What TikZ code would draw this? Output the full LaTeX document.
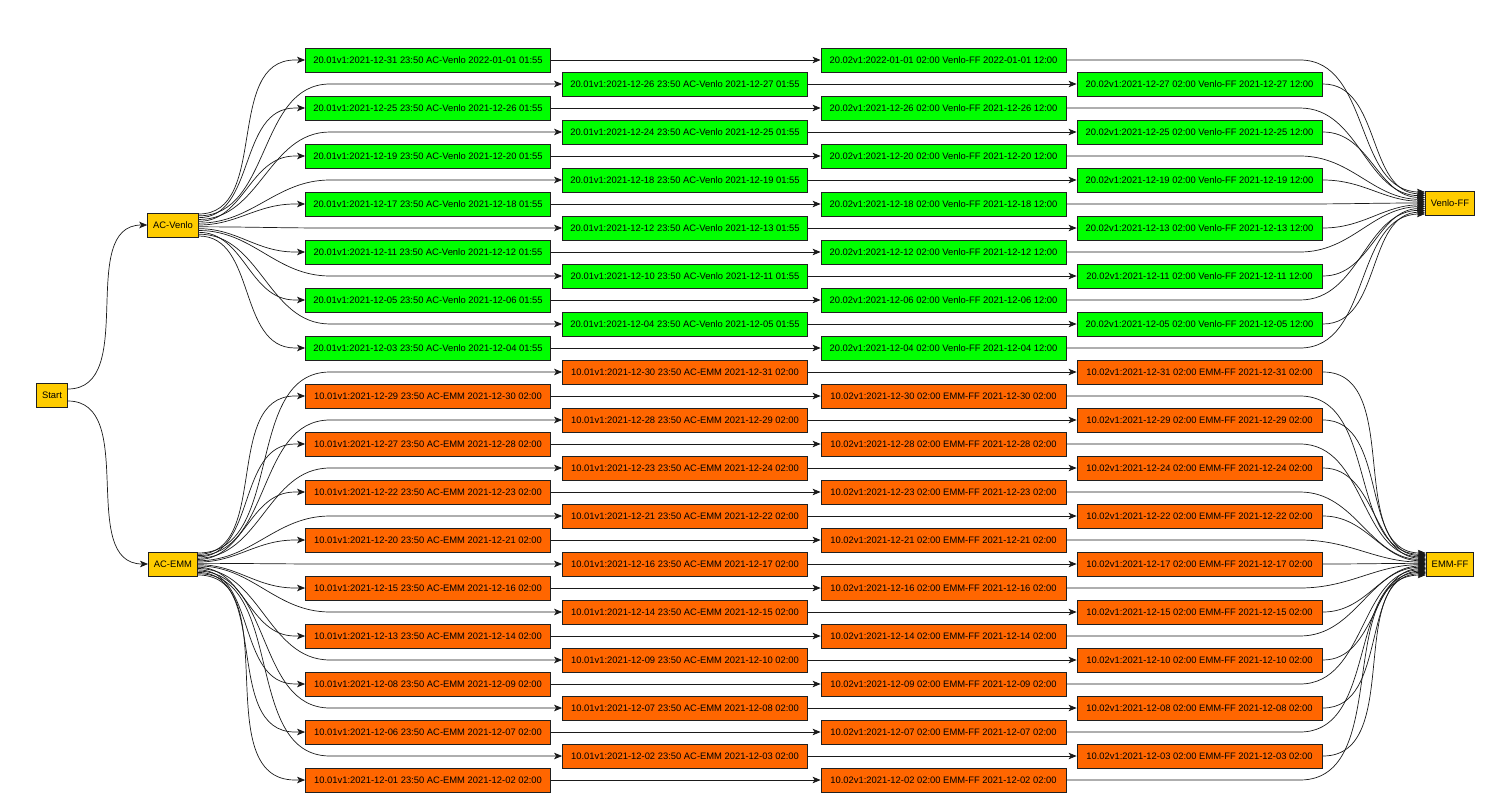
\documentclass[tikz,border=0pt]{standalone}
\usepackage{fontspec}
\setmainfont{Liberation Sans}
\usetikzlibrary{arrows.meta,calc,backgrounds}
\definecolor{Frame}{HTML}{202020}
\definecolor{Wire}{HTML}{1A1A1A}
\definecolor{Hub}{HTML}{FFCC00}
\definecolor{Venlo}{HTML}{00FF00}
\definecolor{Emm}{HTML}{FF6600}
\tikzset{box/.style={draw=Frame,line width=0.8pt,inner xsep=5.5pt,inner ysep=0pt,
    minimum height=24pt,font=\fontsize{9.4}{11}\selectfont,text=black},
  hub/.style={box,fill=Hub},
  venlostep/.style={box,fill=Venlo,minimum width=245pt},
  emmstep/.style={box,fill=Emm,minimum width=245pt},
  edge/.style={-{Stealth[length=8pt,width=6.5pt,inset=2pt]},line width=0.7pt,draw=Wire}}

\begin{document}
\begin{tikzpicture}[x=1pt,y=-1pt]
  \useasboundingbox (0,0) rectangle (1497,795);
  \node[hub] (start) at (52,395) {Start};
  \node[hub] (acvenlo) at (173,225) {AC-Venlo};
  \node[hub] (acemm) at (173,564) {AC-EMM};
  \node[hub] (venloff) at (1450,203) {Venlo-FF};
  \node[hub] (emmff) at (1450,564) {EMM-FF};
  \draw[edge] ($(start.east)+(0,-6)$) to[out=0,in=180] (acvenlo.west);
  \draw[edge] ($(start.east)+(0,6)$) to[out=0,in=180] (acemm.west);
  % Venlo chains, newest on top
  \foreach \dep/\arr [count=\i from 0] in {2021-12-31/2022-01-01,2021-12-26/2021-12-27,
      2021-12-25/2021-12-26,2021-12-24/2021-12-25,2021-12-19/2021-12-20,
      2021-12-18/2021-12-19,2021-12-17/2021-12-18,2021-12-12/2021-12-13,
      2021-12-11/2021-12-12,2021-12-10/2021-12-11,2021-12-05/2021-12-06,
      2021-12-04/2021-12-05,2021-12-03/2021-12-04}{
    \pgfmathsetmacro\rowy{60+24*\i}
    \pgfmathsetmacro\off{-11+22*\i/12}
    \ifodd\i\relax \def\xa{685}\def\xb{1199.5}\def\xin{330}\def\xout{1323}%
    \else \def\xa{428}\def\xb{943.5}\def\xin{295}\def\xout{1300}\fi
    \node[venlostep] (gA\i) at (\xa,\rowy) {20.01v1:\dep{} 23:50 AC-Venlo \arr{} 01:55};
    \node[venlostep] (gB\i) at (\xb,\rowy) {20.02v1:\arr{} 02:00 Venlo-FF \arr{} 12:00};
    \begin{scope}[on background layer]
      \draw[edge] ($(acvenlo.east)+(0,\off)$) to[out=0,in=180] (\xin,\rowy) -- (gA\i.west);
      \draw[edge] (gA\i) -- (gB\i);
      \draw[edge] (gB\i.east) -- (\xout,\rowy) to[out=0,in=180] ($(venloff.west)+(0,\off)$);
    \end{scope}
  }
  % EMM chains
  \foreach \dep/\arr [count=\i from 0] in {2021-12-30/2021-12-31,2021-12-29/2021-12-30,
      2021-12-28/2021-12-29,2021-12-27/2021-12-28,2021-12-23/2021-12-24,
      2021-12-22/2021-12-23,2021-12-21/2021-12-22,2021-12-20/2021-12-21,
      2021-12-16/2021-12-17,2021-12-15/2021-12-16,2021-12-14/2021-12-15,
      2021-12-13/2021-12-14,2021-12-09/2021-12-10,2021-12-08/2021-12-09,
      2021-12-07/2021-12-08,2021-12-06/2021-12-07,2021-12-02/2021-12-03,
      2021-12-01/2021-12-02}{
    \pgfmathsetmacro\rowy{372+24*\i}
    \pgfmathsetmacro\off{-11+22*\i/17}
    \ifodd\i\relax \def\xa{428}\def\xb{943.5}\def\xin{295}\def\xout{1300}%
    \else \def\xa{685}\def\xb{1199.5}\def\xin{330}\def\xout{1323}\fi
    \node[emmstep] (oA\i) at (\xa,\rowy) {10.01v1:\dep{} 23:50 AC-EMM \arr{} 02:00};
    \node[emmstep] (oB\i) at (\xb,\rowy) {10.02v1:\arr{} 02:00 EMM-FF \arr{} 02:00};
    \begin{scope}[on background layer]
      \draw[edge] ($(acemm.east)+(0,\off)$) to[out=0,in=180] (\xin,\rowy) -- (oA\i.west);
      \draw[edge] (oA\i) -- (oB\i);
      \draw[edge] (oB\i.east) -- (\xout,\rowy) to[out=0,in=180] ($(emmff.west)+(0,\off)$);
    \end{scope}
  }
\end{tikzpicture}
\end{document}
